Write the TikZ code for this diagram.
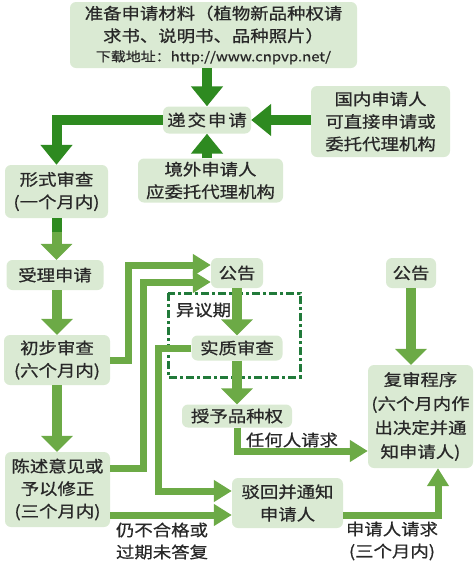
\documentclass[tikz,border=0pt]{standalone}
\usepackage{fontspec}
\newfontfamily\cjk[FakeStretch=1.15,FakeBold=0.7]{Noto Sans CJK SC}
\usetikzlibrary{arrows.meta}
\definecolor{boxfill}{RGB}{218,234,211}
\definecolor{dkg}{RGB}{46,138,32}
\definecolor{ltg}{RGB}{108,170,70}
\definecolor{dashg}{RGB}{33,122,58}
\definecolor{txt}{RGB}{40,40,40}
\begin{document}
\begin{tikzpicture}[x=1pt,y=-1pt,
 box/.style={fill=boxfill, rounded corners=6pt, inner sep=0pt, align=center, text=txt, font=\cjk\fontsize{16}{22.5}\selectfont},
 lbl/.style={inner sep=0pt, align=center, text=txt, font=\cjk\fontsize{16}{22}\selectfont},
 dk/.style={draw=dkg, line width=10pt, -{Triangle[width=31pt,length=20pt]}},
 lt/.style={draw=ltg, line width=10pt, -{Triangle[width=31pt,length=16pt]}},
 ls/.style={draw=ltg, line width=7pt, -{Triangle[width=21pt,length=18pt]}},
 dashbox/.style={draw=dashg, line width=3pt, dash pattern=on 8pt off 3pt on 3pt off 3pt}
]
\useasboundingbox (0,0) rectangle (476,568);
% dashed period box
\draw[dashbox] (168,293) rectangle (300,377);
\node[lbl] (yiyi) at (203.5,310) {异议期};
% boxes
\node[box, minimum width=287pt, minimum height=66pt] (top) at (213.5,35) {准备申请材料（植物新品种权请\\求书、说明书、品种照片）\\[-3pt]{\fontsize{13}{14}\selectfont 下载地址：http://www.cnpvp.net/}};
\node[box, minimum width=88pt, minimum height=27pt] (dijiao) at (207,120) {递\kern2pt交\kern2pt申\kern2pt请};
\node[box, minimum width=139pt, minimum height=71pt] (guonei) at (380.5,121.5) {国内申请人\\可直接申请或\\委托代理机构};
\node[box, minimum width=145pt, minimum height=44pt] (jingwai) at (210.5,180.5) {境外申请人\\应委托代理机构};
\node[box, minimum width=103pt, minimum height=53pt] (xingshi) at (56.5,191.5) {形式审查\\(一个月内)};
\node[box, minimum width=97pt, minimum height=30pt] (shouli) at (55,275) {受理申请};
\node[box, minimum width=106pt, minimum height=50pt] (chubu) at (57,360) {初步审查\\(六个月内)};
\node[box, minimum width=105pt, minimum height=75pt] (chenshu) at (57.5,489.5) {陈述意见或\\予以修正\\(三个月内)};
\node[box, minimum width=52pt, minimum height=30pt] (gg1) at (237,273) {公告};
\node[box, minimum width=91pt, minimum height=25pt] (shizhi) at (237,348) {实质审查};
\node[box, minimum width=110pt, minimum height=23pt] (shouyu) at (237,416) {授予品种权};
\node[box, minimum width=50pt, minimum height=30pt] (gg2) at (411,273) {公告};
\node[box, minimum width=105pt, minimum height=103pt, font=\cjk\fontsize{16}{24}\selectfont] (fushen) at (420.5,416.5) {复审程序\\(六个月内作\\出决定并通\\知申请人)};
\node[box, minimum width=111pt, minimum height=50pt] (bohui) at (287.5,503) {驳回并通知\\申请人};
% labels
\node[lbl] (renhe) at (292,440) {任何人请求};
\node[lbl] (reng) at (162,541) {仍不合格或\\过期未答复};
\node[lbl] (shenqing) at (392,541) {申请人请求\\(三个月内)};
% helper coordinates
\coordinate (k1) at (128,265);
\coordinate (k2) at (143,282);
\coordinate (k5) at (143,468);
\coordinate (k3) at (158,491);
\coordinate (k4) at (0,451);
\coordinate (k6) at (0,515);
\coordinate (k7) at (438,0);
% dark arrows
\draw[dk] (top.south -| dijiao.north) -- (dijiao.north);
\draw[dk] (guonei.west |- dijiao.east) -- (dijiao.east);
\draw[dk] (jingwai.north -| dijiao.south) -- (dijiao.south);
\draw[dk] (dijiao.west) -| (xingshi.north);
% light arrows
\draw[lt] (xingshi.south) -- (xingshi.south |- shouli.north);
\draw[dkg, line width=10pt] (xingshi.south) -- ++(0,14);
\draw[lt] (chubu.north |- shouli.south) -- (chubu.north);
\draw[lt] (chubu.south) -- (chubu.south |- chenshu.north);
\draw[lt] (gg1.south) -- (shizhi.north);
\draw[lt] (shizhi.south) -- (shouyu.north);
\draw[lt] (gg2.south) -- (gg2.south |- fushen.north);
\draw[ls] (chubu.east) -| (k1) -- (k1 -| gg1.west);
\draw[ls] (chenshu.east |- k5) -- (k5) -- (k2) -- (k2 -| gg1.west);
\draw[ls] (shizhi.west) -| (k3) -- (k3 -| bohui.west);
\draw[ls] (shouyu.south) |- (k4 -| fushen.west);
\draw[ls] (chenshu.east |- k6) -- (bohui.west |- k6);
\draw[ls] (bohui.east |- k6) -| (k7 |- fushen.south);
\end{tikzpicture}
\end{document}
